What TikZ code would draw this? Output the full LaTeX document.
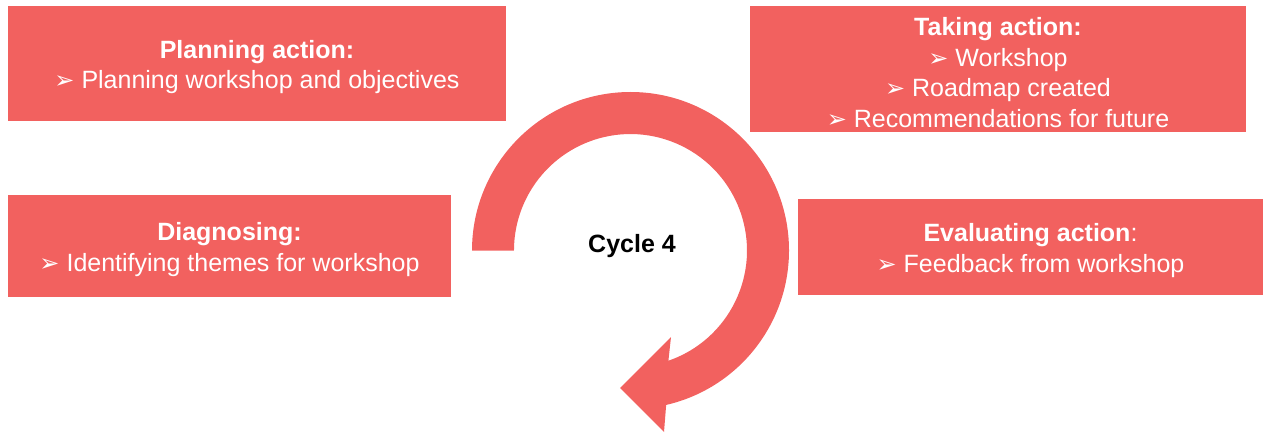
\documentclass[tikz,border=0pt]{standalone}
\usepackage{fontspec}
\setmainfont{Liberation Sans}
\newfontfamily\dingfont{DejaVu Sans}
\usetikzlibrary{positioning}
\definecolor{coral}{RGB}{242,97,95}
\newcommand{\pointer}{{\dingfont\fontsize{24}{24}\selectfont ➢}}
\newcommand{\stagetitle}[1]{\rule{0pt}{25pt}\textbf{#1}}
\tikzset{
  stagebox/.style={rectangle, fill=coral, text=white, align=center, inner sep=0pt,
    font=\fontsize{25}{30.5}\selectfont},
  cyclearrow/.style={fill=coral},
  cyclelabel/.style={font=\fontsize{25}{30.5}\selectfont\bfseries},
}

\begin{document}
\begin{tikzpicture}[x=1pt, y=1pt]
  \useasboundingbox (0,0) rectangle (1265,434);

  % Curved arrow
  \fill[cyclearrow] (472,183.5) arc (180:-77:158.5) -- (664,2) -- (620,46) -- (671,97)
    -- (668.4,73.3) arc (-71:180:116.5) -- cycle;
  \node[cyclelabel] (cycle) at (632,188) {Cycle 4};

  % Stages
  \node[stagebox, minimum width=498pt, minimum height=115pt] (plan) at (257,370.5)
    {\stagetitle{Planning action:}\\ \pointer\ Planning workshop and objectives};
  \node[stagebox, minimum width=496pt, minimum height=126pt] (take) at (998,365)
    {\stagetitle{Taking action:}\\ \pointer\ Workshop\\ \pointer\ Roadmap created\\
     \pointer\ Recommendations for future};
  \node[stagebox, minimum width=443pt, minimum height=102pt] (diag) at (229.5,188)
    {\stagetitle{Diagnosing:}\\ \pointer\ Identifying themes for workshop};
  \node[stagebox, minimum width=465pt, minimum height=96pt] (eval) at (1030.5,187)
    {\stagetitle{Evaluating action}:\\ \pointer\ Feedback from workshop};
\end{tikzpicture}
\end{document}
